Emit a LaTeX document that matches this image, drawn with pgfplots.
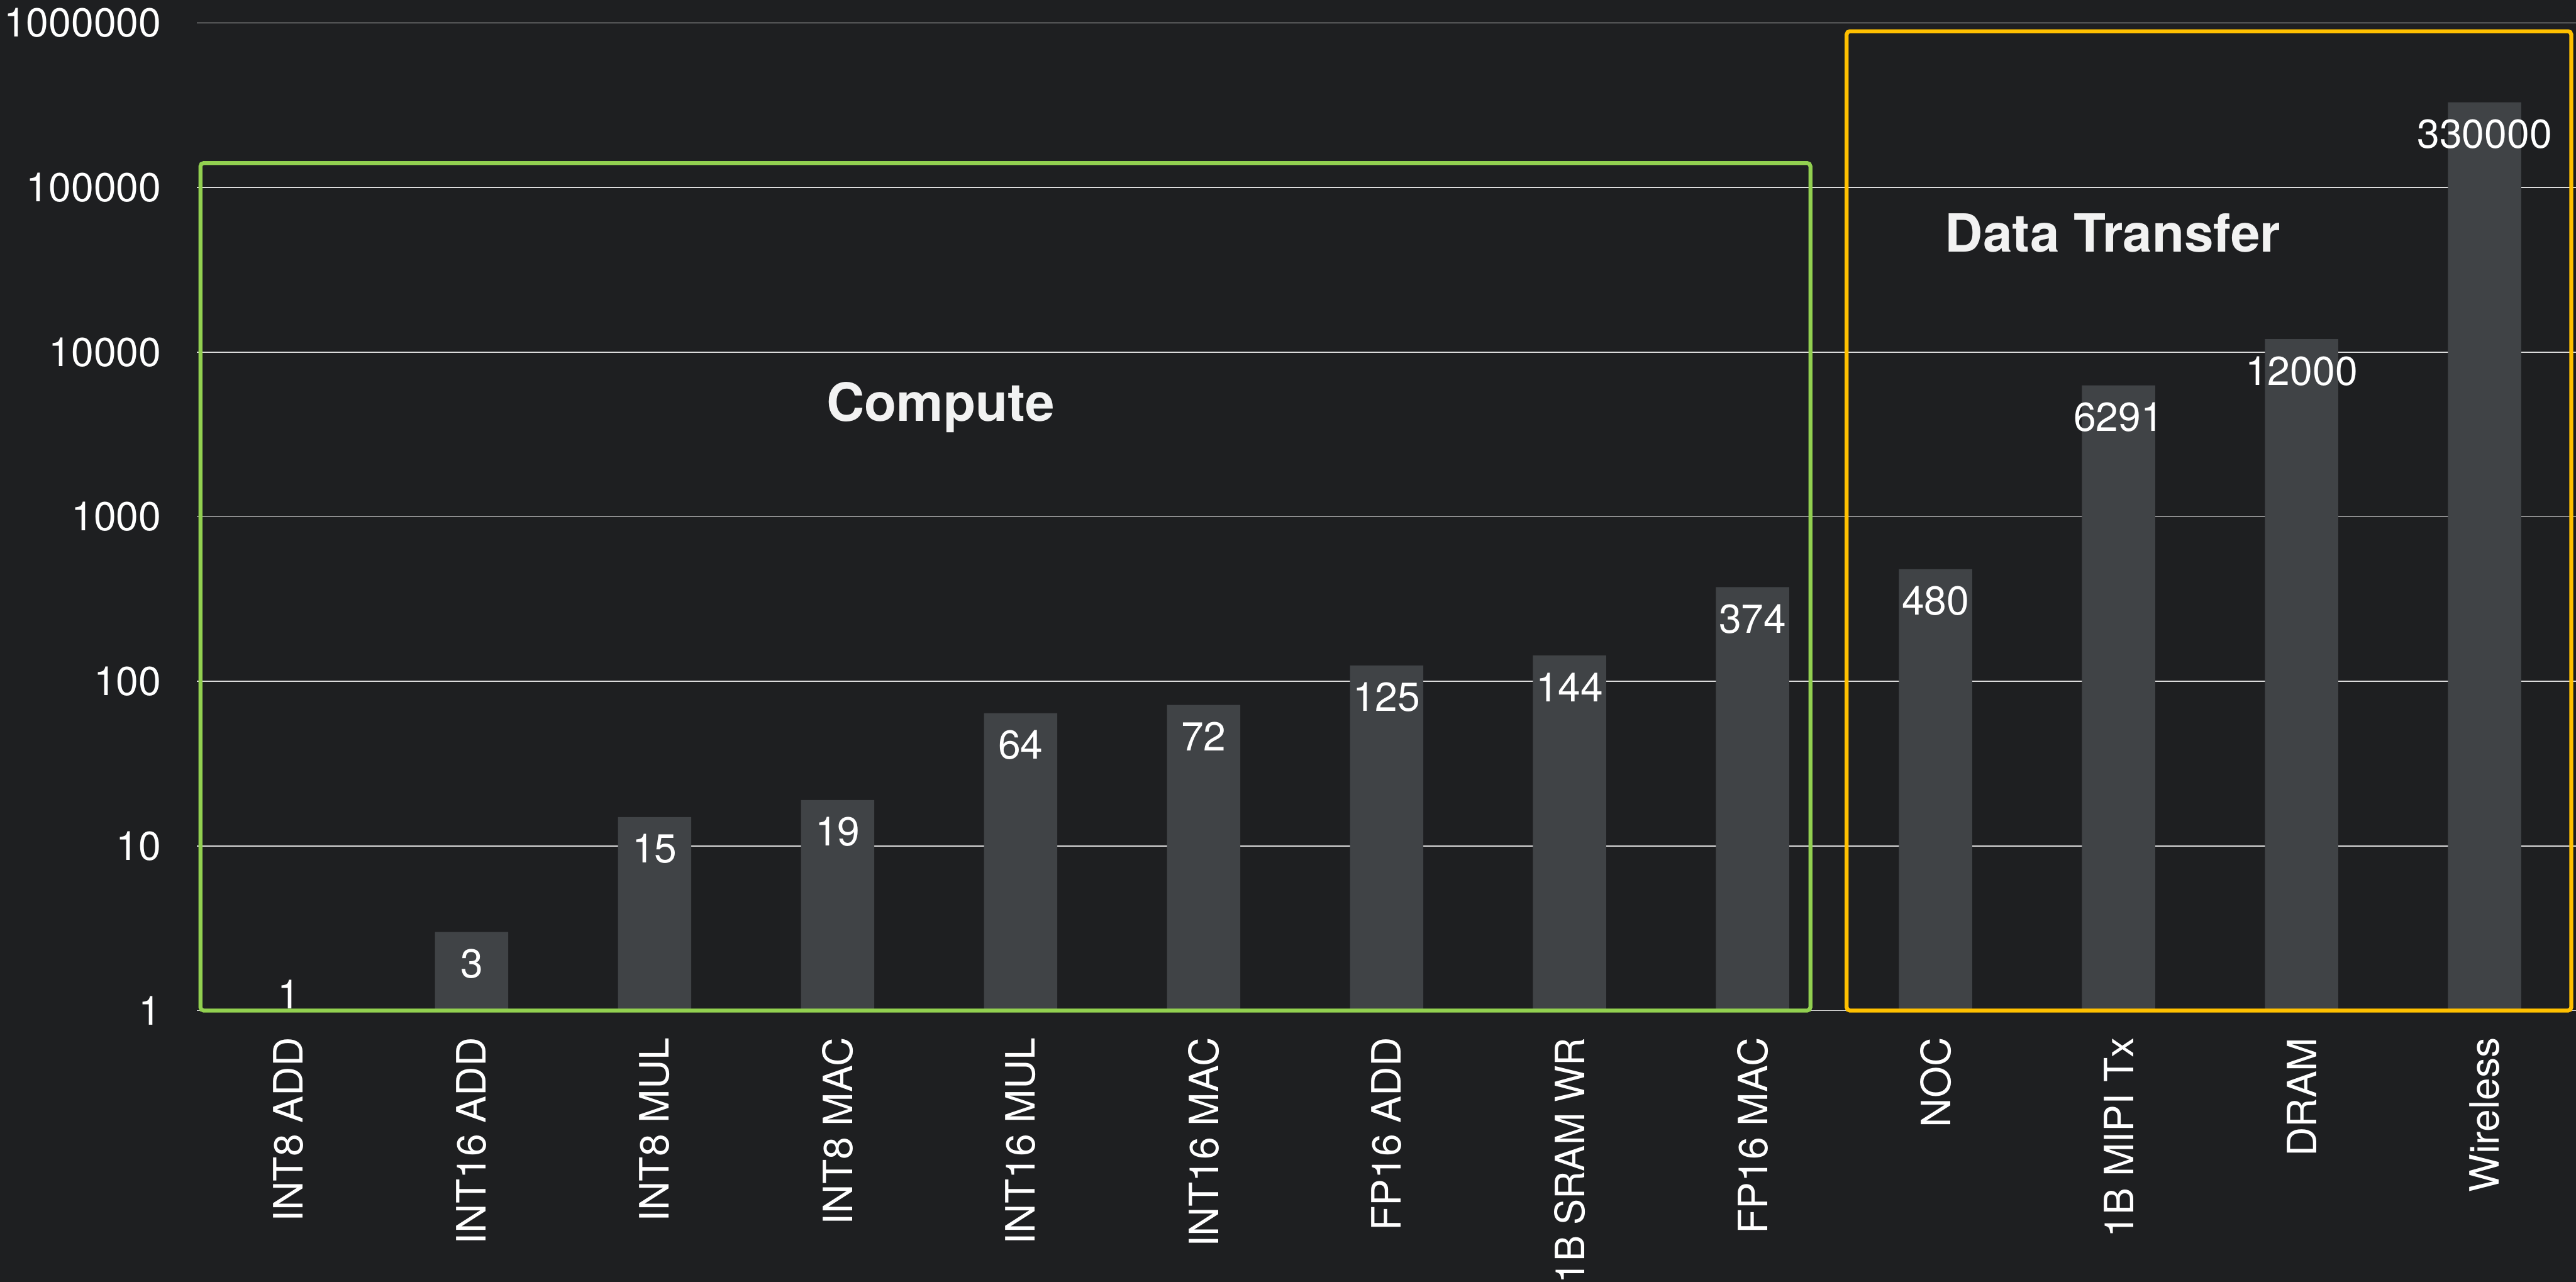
\documentclass[border=0pt]{standalone}
\usepackage{pgfplots}
\pgfplotsset{compat=1.18}
\usepackage{pgfplotstable}
\usepackage{xcolor}
\usepackage{graphicx}
\usepackage{fontspec}
\setmainfont{TeX Gyre Heros}

\definecolor{bg}{HTML}{1E1F21}
\definecolor{barc}{HTML}{404346}
\definecolor{gridc}{HTML}{DCDCDC}
\definecolor{computec}{HTML}{92D050}
\definecolor{transferc}{HTML}{FFC000}
\definecolor{titlec}{HTML}{F2F2F2}
\pagecolor{bg}

% energy per operation, relative to an 8-bit integer add
\pgfplotstableread{
x y      lab    ys
0 1      1      5
1 3      3      -9.7
2 15     15     -9.7
3 19     19     -9.7
4 64     64     -9.7
5 72     72     -9.7
6 125    125    -9.7
7 144    144    -9.7
8 374    374    -9.7
9 480    480    -9.7
10 6291  6291   -9.7
11 12000 12000  -9.7
12 330000 330000 -9.7
}\energy

\begin{document}
\begin{tikzpicture}
\begin{axis}[
  scale only axis,
  width=724pt, height=300.5pt,
  ymode=log,
  ymin=1, ymax=1000000,
  xmin=-0.5, xmax=12.5,
  ybar, bar width=22.3pt, bar shift=0pt,
  axis line style={draw=none},
  major tick length=0pt,
  minor tick length=0pt,
  yminorticks=false,
  tick style={draw=none},
  ytick={1,10,100,1000,10000,100000,1000000},
  yticklabels={1,10,100,1000,10000,100000,1000000},
  xtick={0,...,12},
  xticklabels={INT8 ADD,INT16 ADD,INT8 MUL,INT8 MAC,INT16 MUL,INT16 MAC,FP16 ADD,\scalebox{0.96}[1]{1B SRAM WR},FP16 MAC,NOC,1B MIPI Tx,DRAM,Wireless},
  ymajorgrids,
  grid style={gridc, line width=0.35pt},
  ticklabel style={font=\fontsize{12.3}{14}\selectfont, text=white},
  yticklabel style={anchor=east, xshift=-7.4pt},
  % rotated labels: the node's own x axis points up, so a negative xshift moves them down
  xticklabel style={rotate=90, anchor=east, xshift=-4.7pt},
  clip=false,
]
\addplot[fill=barc, draw=none,
  point meta=explicit symbolic,
  visualization depends on={\thisrow{ys}\as\ys},
  nodes near coords,
  every node near coord/.style={anchor=center, yshift=\ys pt,
    font=\fontsize{12.3}{14}\selectfont, text=white},
] table[x=x, y=y, meta=lab] {\energy};

\draw[computec, line width=1.2pt, rounded corners=1pt]
  (axis cs:-0.482,1) rectangle (axis cs:8.316,141000);
\draw[transferc, line width=1.2pt, rounded corners=1pt]
  (axis cs:8.514,1) rectangle (axis cs:12.474,891000);

\node[anchor=base west, inner sep=0pt, text=titlec,
  font=\fontsize{16}{19}\selectfont\bfseries] at (axis cs:2.936,3819) {Compute};
\node[anchor=base west, inner sep=0pt, text=titlec,
  font=\fontsize{16}{19}\selectfont\bfseries] at (axis cs:9.049,40738) {Data Transfer};

\coordinate (bl) at (rel axis cs:0,0);
\coordinate (tr) at (rel axis cs:1,1);
\end{axis}
\pgfresetboundingbox
\path[use as bounding box] ([xshift=-60pt, yshift=-82.5pt]bl) rectangle ([yshift=7pt]tr);
\end{tikzpicture}
\end{document}
